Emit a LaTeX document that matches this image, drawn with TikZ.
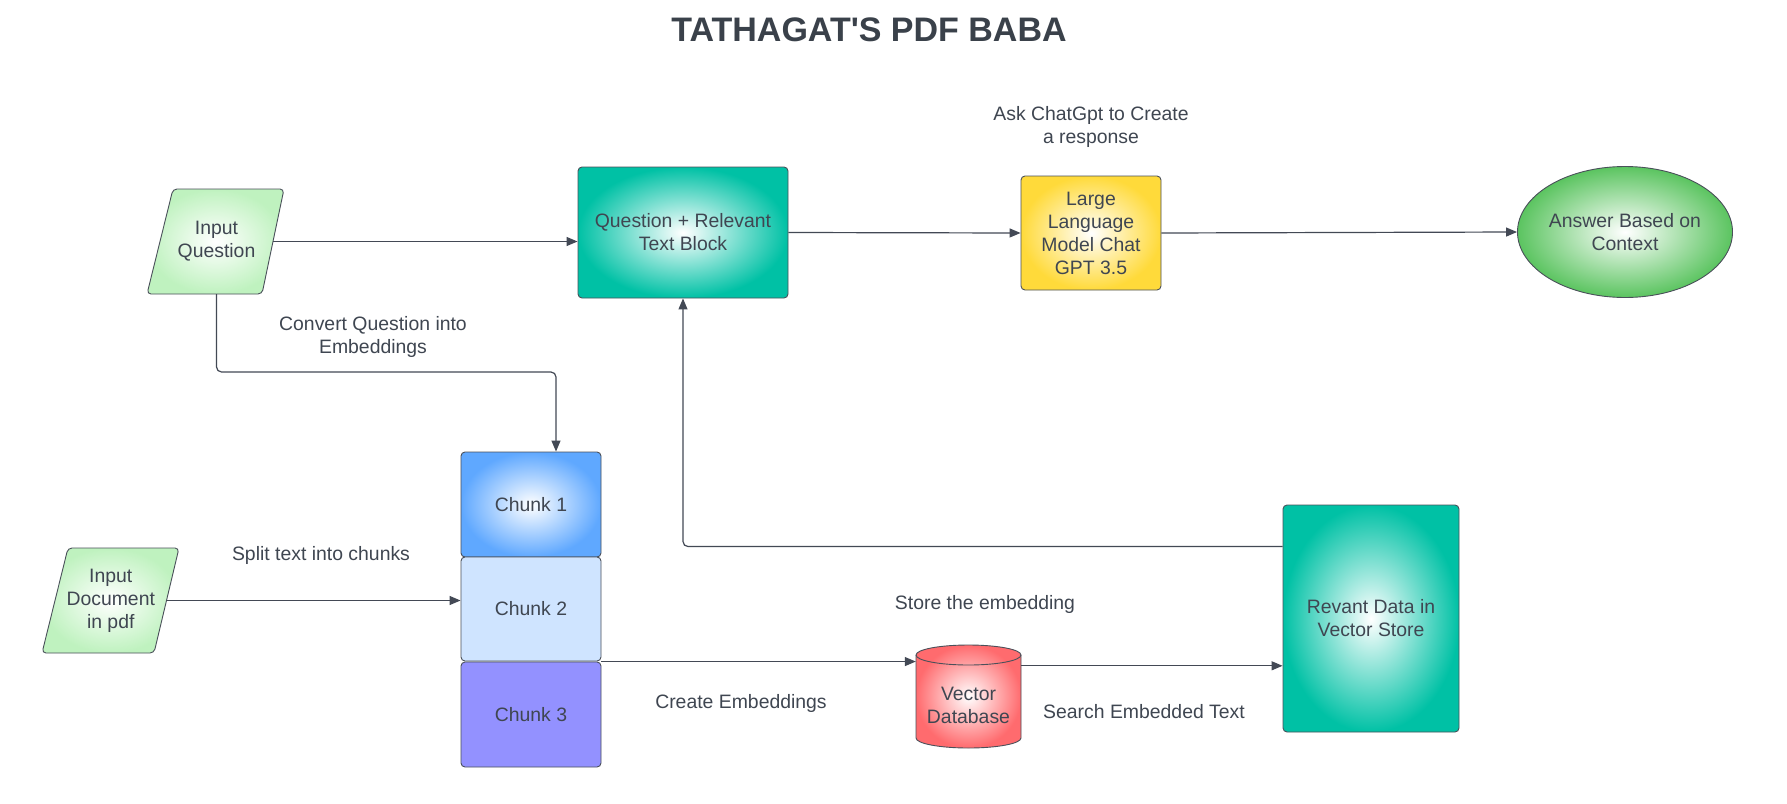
\documentclass[tikz,border=0pt]{standalone}
\usepackage{fontspec}
\setmainfont{Liberation Sans}
\newfontfamily\titlefont{Liberation Sans}
\usetikzlibrary{arrows.meta,shapes.geometric}
\definecolor{txtc}{HTML}{3F4651}
\definecolor{titlec}{HTML}{3A414A}
\definecolor{linec}{HTML}{434955}
\definecolor{edgec}{HTML}{4A505A}
\definecolor{tealc}{HTML}{00C1A5}
\definecolor{yellowc}{HTML}{FFDA3A}
\definecolor{greenc}{HTML}{5BC460}
\definecolor{lgreenc}{HTML}{BFF2BF}
\definecolor{bluec}{HTML}{5FA8FF}
\definecolor{lbluec}{HTML}{CFE4FF}
\definecolor{purplec}{HTML}{9391FF}
\definecolor{redc}{HTML}{FF6B6E}
\newcommand{\lucidfont}{\fontsize{19.4}{23}\selectfont}
\tikzset{
  base/.style={draw=edgec, line width=0.9pt, rounded corners=4pt, inner sep=0pt, align=center, text=txtc, font=\lucidfont},
  tealbox/.style={base, inner color=white, outer color=tealc},
  yellowbox/.style={base, inner color=white, outer color=yellowc},
  bluebox/.style={base, inner color=white, outer color=bluec},
  greenell/.style={base, ellipse, inner color=white, outer color=greenc},
  para/.style={draw=edgec, line width=0.9pt, rounded corners=4pt, inner color=white, outer color=lgreenc},
  cyl/.style={draw=edgec, line width=0.9pt, inner color=white, outer color=redc},
  textonly/.style={inner sep=0pt, align=center, text=txtc, font=\lucidfont},
  conn/.style={draw=linec, line width=1.2pt, -{Triangle[length=11pt,width=9pt]}},
  lbl/.style={inner sep=0pt, align=center, text=txtc, font=\lucidfont},
}
\begin{document}
\begin{tikzpicture}[x=1pt,y=-1pt]
\useasboundingbox (0,0) rectangle (1787,803);
\fill[white] (0,0) rectangle (1787,803);

% title
\node[inner sep=0pt, text=titlec, font=\titlefont\bfseries\fontsize{34}{40}\selectfont] (title) at (869,30) {TATHAGAT'S PDF BABA};

% Input Question parallelogram
\path[para] (173,189) -- (284,189) -- (262,294) -- (147,294) -- cycle;
\node[textonly, minimum width=113pt, minimum height=105pt] (iq) at (216.5,241.5) {Input\\Question};

% Input Document parallelogram
\path[para] (68,548) -- (179,548) -- (154,653) -- (42,653) -- cycle;
\node[textonly, minimum width=111pt, minimum height=105pt] (id) at (110.75,600.5) {Input\\Document\\in pdf};

% main boxes
\node[tealbox, minimum width=210pt, minimum height=131pt] (qb) at (683,232.5) {Question + Relevant\\Text Block};
\node[yellowbox, minimum width=140pt, minimum height=114pt] (llm) at (1091,233) {Large\\Language\\Model Chat\\GPT 3.5};
\node[greenell, minimum width=193pt, minimum height=131pt] (ans) at (1625,232) {Answer Based on\\Context};

% chunks
\node[bluebox, minimum width=140pt, minimum height=105pt] (c1) at (531,504.5) {Chunk 1};
\node[base, fill=lbluec, minimum width=140pt, minimum height=104pt] (c2) at (531,609) {Chunk 2};
\node[base, fill=purplec, minimum width=140pt, minimum height=105pt] (c3) at (531,714.5) {Chunk 3};

% vector database cylinder
\path[cyl] (916,655) -- (916,738) arc[start angle=180,end angle=360,x radius=52.5pt,y radius=10pt]
  -- (1021,655) arc[start angle=0,end angle=180,x radius=52.5pt,y radius=10pt] -- cycle;
\draw[draw=edgec, line width=0.9pt] (916,655) arc[start angle=180,end angle=360,x radius=52.5pt,y radius=10pt];
\node[inner sep=0pt, minimum width=105pt, minimum height=103pt] (db) at (968.5,696.5) {};
\node[textonly] (dbt) at (968.5,705) {Vector\\Database};

% relevant data box
\node[tealbox, minimum width=176pt, minimum height=227pt] (rv) at (1371,618.5) {Revant Data in\\Vector Store};

% connectors
\draw[conn] (iq.east) -- (iq.east -| qb.west);
\draw[conn] (qb.east) -- (llm.west);
\draw[conn] (llm.east) -- (ans.west);
\coordinate (bend1) at (556,372);
\draw[conn, rounded corners=5pt] (iq.south) |- (bend1) -- (bend1 |- c1.north);
\draw[conn] (id.east) -- (id.east -| c2.west);
\draw[conn] (c3.north east) -- (c3.north east -| db.west);
\draw[conn] ([yshift=-21pt]db.north east) -- ([yshift=-21pt]db.north east -| rv.west);
\draw[conn, rounded corners=5pt] ([yshift=-42pt]rv.north west) -| (qb.south);

% labels
\node[lbl] (l1) at (1091,126.5) {Ask ChatGpt to Create\\a response};
\node[lbl] (l2) at (373,336.5) {Convert Question into\\Embeddings};
\node[lbl] (l3) at (321,555) {Split text into chunks};
\node[lbl] (l4) at (985,604) {Store the embedding};
\node[lbl] (l5) at (741,703) {Create Embeddings};
\node[lbl] (l6) at (1144,712) {Search Embedded Text};
\end{tikzpicture}
\end{document}
